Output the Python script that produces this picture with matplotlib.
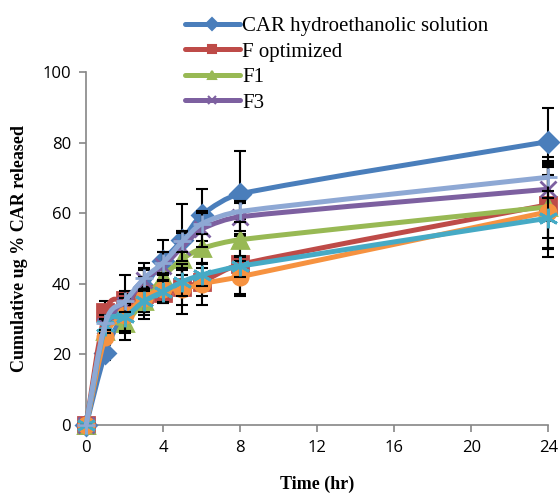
import matplotlib
matplotlib.use("Agg")
import matplotlib.pyplot as plt
import numpy as np
from matplotlib.lines import Line2D
from matplotlib.patches import PathPatch
from matplotlib.path import Path


TIME_HR = [0, 1, 2, 3, 4, 5, 6, 8, 24]

CAR_SOLUTION = [0, 20.5, 32, 39, 46.5, 52.5, 59.5, 65.5, 80.3]
F_OPTIMIZED = [0, 32, 35.5, 37, 37.5, 39, 40.5, 45.5, 62.4]
F1 = [0, 26.5, 29, 35, 42, 47, 50, 52.5, 61.8]
F3 = [0, 28, 34, 41, 45, 50.5, 55.5, 59, 66.8]
TEAL_SERIES = [0, 28, 30.5, 35, 37.8, 40.6, 42.5, 45, 58.6]
ORANGE_SERIES = [0, 25, 31, 36, 38.5, 38.5, 40, 42, 60.4]
LIGHT_BLUE_SERIES = [0, 29, 35, 41.5, 46, 52, 57, 60.5, 70.2]

CAR_SOLUTION_SD = [0, 2, 4, 5, 6, 10, 7.5, 12, 9.4]
F_OPTIMIZED_SD = [0, 3, 7, 5, 3, 5, 4, 8.5, 12.3]
F1_SD = [0, 3, 5, 4, 4, 8, 4, 6, 12]
F3_SD = [0, 2, 3, 5, 4, 4, 5, 4, 9]
TEAL_SD = [0, 2, 4, 3, 3, 4, 3, 3, 5.6]
ORANGE_SD = [0, 2, 5, 6, 4, 7, 6, 5.5, 12.7]
LIGHT_BLUE_SD = [0, 2, 3, 3, 3, 3, 3, 3, 4]

LEGEND_LABELS = ["CAR hydroethanolic solution", "F optimized", "F1", "F3"]

SERIES = [
    # values, sd, color, marker, marker size, legend label
    (CAR_SOLUTION, CAR_SOLUTION_SD, "#4A7EBB", "D", 10, LEGEND_LABELS[0]),
    (F_OPTIMIZED, F_OPTIMIZED_SD, "#BE4B48", "s", 11, LEGEND_LABELS[1]),
    (F1, F1_SD, "#98B954", "^", 12, LEGEND_LABELS[2]),
    (F3, F3_SD, "#7D60A0", "x", 11, LEGEND_LABELS[3]),
    (ORANGE_SERIES, ORANGE_SD, "#F69240", "o", 11, None),
    (TEAL_SERIES, TEAL_SD, "#46AAC5", (6, 2, 0), 14, None),
    (LIGHT_BLUE_SERIES, LIGHT_BLUE_SD, "#8EA8D4", "+", 13, None),
]


def smooth_path(xs, ys):
    # Excel style smoothed line: Catmull-Rom segments as cubic Beziers
    pts = np.column_stack([xs, ys]).astype(float)
    n = len(pts)
    verts = [pts[0]]
    codes = [Path.MOVETO]
    for i in range(n - 1):
        p0 = pts[max(i - 1, 0)]
        p1 = pts[i]
        p2 = pts[i + 1]
        p3 = pts[min(i + 2, n - 1)]
        dx = p2[0] - p1[0]
        t1 = (p2 - p0) / 6.0
        t2 = (p3 - p1) / 6.0
        if t1[0] > dx / 3:
            t1 = t1 * (dx / 3) / t1[0]
        if t2[0] > dx / 3:
            t2 = t2 * (dx / 3) / t2[0]
        verts += [p1 + t1, p2 - t2, p2]
        codes += [Path.CURVE4] * 3
    return Path(verts, codes)


def plot_release() -> None:
    fig = plt.figure(figsize=(5.6, 4.94), dpi=100)
    ax = fig.add_axes([0.154, 0.140, 0.825, 0.714])

    for z, (values, sd, color, marker, ms, label) in enumerate(SERIES):
        ax.errorbar(TIME_HR, values, yerr=sd, fmt="none", ecolor="black",
                    elinewidth=1.5, capsize=4, capthick=1.5,
                    zorder=3 + z * 3, clip_on=False)
        ax.add_patch(PathPatch(smooth_path(TIME_HR, values), facecolor="none",
                               edgecolor=color, linewidth=3.6,
                               capstyle="round", joinstyle="round",
                               zorder=4 + z * 3, clip_on=False))
        ax.plot(TIME_HR, values, linestyle="none", marker=marker,
                markersize=ms, color=color, mec=color, mew=2,
                zorder=5 + z * 3, clip_on=False)

    ax.set_xlim(0, 24)
    ax.set_ylim(0, 100)
    ax.set_xticks(range(0, 25, 4))
    ax.set_yticks(range(0, 101, 20))

    for side in ("top", "right"):
        ax.spines[side].set_visible(False)
    for side in ("left", "bottom"):
        ax.spines[side].set_color("#868686")
        ax.spines[side].set_linewidth(1.2)
    ax.tick_params(direction="out", length=5, width=1.2, color="#868686",
                   labelsize=12, pad=6)
    for lbl in ax.get_xticklabels() + ax.get_yticklabels():
        lbl.set_family("Open Sans")

    ax.set_xlabel("Time (hr)", family="Liberation Serif", fontweight="bold",
                  fontsize=13, labelpad=14)
    ax.set_ylabel("Cumulative ug % CAR released", family="Liberation Serif",
                  fontweight="bold", fontsize=13, labelpad=10)

    handles = []
    for values, sd, color, marker, ms, label in SERIES[:4]:
        handles.append(Line2D([], [], color=color, linewidth=3.6,
                              solid_capstyle="round", marker=marker,
                              markersize=6, mec=color, mew=1.5))
    fig.legend(handles, LEGEND_LABELS, loc="upper left",
               bbox_to_anchor=(0.330, 0.967), frameon=False,
               prop={"family": "Liberation Serif", "size": 15},
               handlelength=2.65, handletextpad=0.1, labelspacing=0.29,
               borderaxespad=0, borderpad=0)

    fig.savefig("out.png", dpi=100)


def main() -> None:
    plot_release()


if __name__ == "__main__":
    main()
